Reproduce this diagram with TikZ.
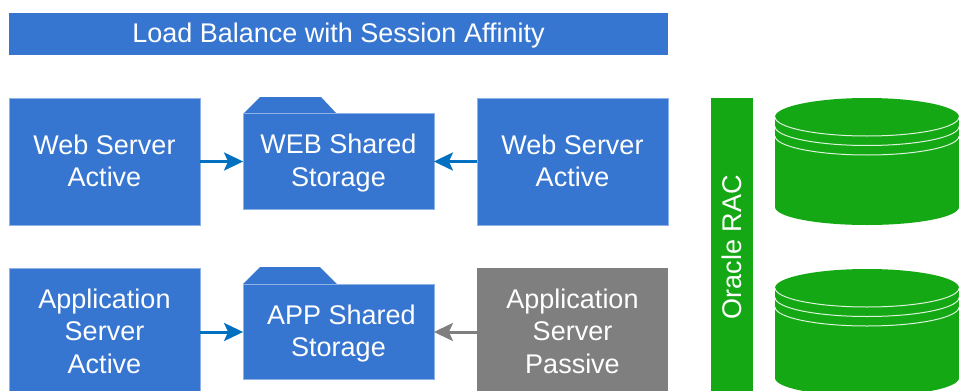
\documentclass[tikz,border=0pt]{standalone}
\usepackage{fontspec}
\setmainfont{Liberation Sans}
\usetikzlibrary{arrows.meta}
\definecolor{boxblue}{HTML}{3776D0}
\definecolor{dbgreen}{HTML}{14A914}
\definecolor{arrowblue}{HTML}{0070C0}
\definecolor{passivegrey}{HTML}{7F7F7F}
\definecolor{edgeblue}{HTML}{8FB2E6}
\newcommand{\topnudge}{\rule{0pt}{23pt}}
\newcommand{\lownudge}{\rule[-2pt]{0pt}{2pt}}
\tikzset{
  label text/.style={text=white,font=\fontsize{27}{32.5}\selectfont,align=center,inner sep=0pt},
  serverbox/.style={label text,fill=boxblue,draw=edgeblue,line width=0.5pt,minimum width=191pt,minimum height=127pt},
  foldertab/.style={fill=boxblue},
  folderbox/.style={label text,fill=boxblue,draw=edgeblue,line width=0.8pt,minimum width=191pt,minimum height=95.5pt},
  greenbar/.style={label text,fill=dbgreen,draw=none},
  flow/.style={line width=3pt,-{Stealth[length=19pt,width=18pt,inset=4pt]},shorten >=-0.5pt},
  cyl/.style={fill=dbgreen,draw=none},
  cylline/.style={draw=white!85!dbgreen,line width=1pt}
}
\newcommand{\dbstack}[1]{%
  \fill[cyl] (775,#1+19) arc[x radius=92,y radius=19,start angle=180,end angle=360]
    -- (959,#1+109) arc[x radius=92,y radius=18,start angle=0,end angle=180] -- cycle;
  \draw[cylline] (775,#1+19) arc[x radius=92,y radius=19,start angle=180,end angle=0];
  \draw[cylline] (775,#1+28.5) arc[x radius=92,y radius=19,start angle=180,end angle=0];
  \draw[cylline] (775,#1+38) arc[x radius=92,y radius=19,start angle=180,end angle=0];
}
\begin{document}
\begin{tikzpicture}[x=1pt,y=-1pt]
\useasboundingbox (0,0) rectangle (959,391);
\clip (0,0) rectangle (959,391);
\fill[white] (0,0) rectangle (959,391);

\node[label text,fill=boxblue,minimum width=659pt,minimum height=42pt] (title) at (338.5,34) {\topnudge Load Balance with Session Affinity};

\node[serverbox] (webA) at (104.5,161.5) {Web Server\\Active\lownudge};
\node[serverbox] (webB) at (572.5,161.5) {Web Server\\Active\lownudge};
\fill[foldertab] (243,114) -- (260,97) -- (321,97) -- (337,114) -- cycle;
\node[folderbox] (webS) at (338.5,161.5) {\topnudge WEB Shared\\Storage};

\node[serverbox,minimum height=128pt] (appA) at (104.5,332) {Application\\Server\\Active\lownudge};
\node[serverbox,minimum height=128pt,fill=passivegrey,draw=none] (appB) at (572.5,332) {Application\\Server\\Passive\lownudge};
\fill[foldertab] (243,284) -- (260,267) -- (320,267) -- (337,284) -- cycle;
\node[folderbox] (appS) at (338.5,332) {\hspace*{6pt}\topnudge APP Shared\\Storage};

\draw[flow,arrowblue] (webA.east) -- (webS.west);
\draw[flow,arrowblue] (webB.west) -- (webS.east);
\draw[flow,arrowblue] (appA.east) -- (appS.west);
\draw[flow,passivegrey] (appB.west) -- (appS.east);

\node[greenbar,minimum width=42pt,minimum height=298pt] (rac) at (732,247) {};
\node[label text,rotate=90] (racl) at (rac.center) {Oracle RAC};

\dbstack{98}
\dbstack{269}
\end{tikzpicture}
\end{document}
